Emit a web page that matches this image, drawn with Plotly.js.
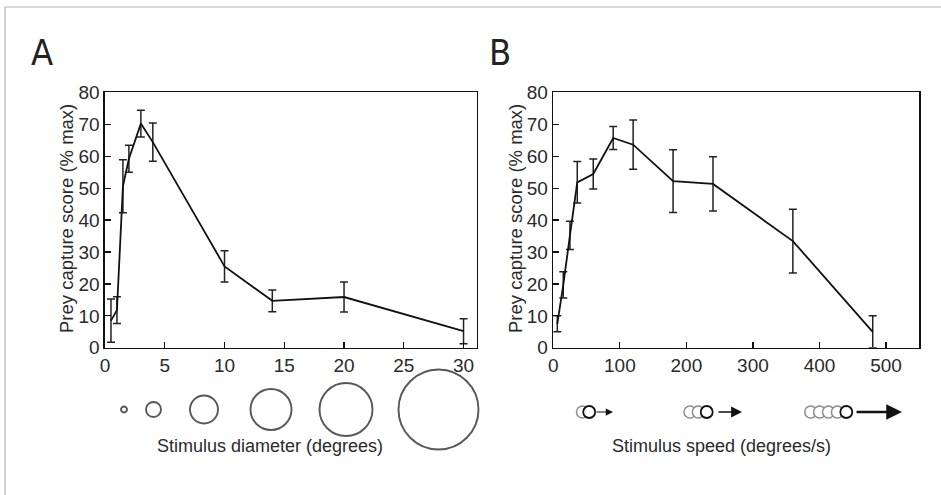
<!DOCTYPE html>
<html>
<head>
<meta charset="utf-8">
<script src="https://cdn.plot.ly/plotly-3.0.1.min.js"></script>
<style>html,body{margin:0;padding:0;background:#fff;}#chart{width:941px;height:495px;}</style>
</head>
<body>
<div id="chart"></div>
<script>
// ---- data ----
var diameter = [0.5, 1, 1.5, 2, 3, 4, 10, 14, 20, 30];
var scoreDiameter = [8.5, 11.8, 50.6, 59.2, 70.2, 64.4, 25.5, 14.7, 15.9, 5.2];
var errDiameter = [6.8, 4.2, 8.3, 4.2, 4.2, 6.0, 4.9, 3.4, 4.7, 3.9];

var speed = [6, 15, 25, 36, 60, 90, 120, 180, 240, 360, 480];
var scoreSpeed = [7.5, 19.7, 35.2, 51.8, 54.4, 65.7, 63.6, 52.2, 51.3, 33.4, 5.0];
var errSpeed = [2.5, 4.1, 4.4, 6.5, 4.7, 3.6, 7.7, 9.8, 8.5, 10.0, 5.0];

var yTicks = [0, 10, 20, 30, 40, 50, 60, 70, 80];
var xTicksA = [0, 5, 10, 15, 20, 25, 30];
var xTicksB = [0, 100, 200, 300, 400, 500];

// ---- illustration icons (pixel space of the figure) ----
var diamIconX = [124, 153.5, 204, 271, 346, 438.5];
var diamIconSize = [6, 15, 28, 41, 53, 80];
var diamIconY = 409.5;

var speedIconHead = [589.2, 706.7, 846.3];
var speedIconGhosts = [[582.5], [690.0, 698.3], [810.7, 819.6, 828.5, 837.4]];
var speedArrow = [[595, 613, 1], [717, 742, 1.6], [855, 902, 2.6]];
var speedIconY = 412;

var W = 941, H = 495;
var FONT = 'Liberation Sans, Arial, Helvetica, sans-serif';
var NARROW = 'Liberation Sans Narrow, Arial Narrow, DejaVu Sans Condensed, ' + FONT;
var TXT = '#2a2a2a';

function axX(domain, range, ticks) {
  return {domain: domain, range: range, tickvals: ticks, ticktext: ticks.map(String),
    ticks: 'inside', ticklen: 6, tickwidth: 1.2, tickcolor: '#111',
    showline: true, linecolor: '#111', linewidth: 1.6, mirror: true,
    showgrid: false, zeroline: false, fixedrange: true,
    tickfont: {family: FONT, size: 19, color: TXT}};
}
function axY(domain, anchor) {
  return {domain: domain, range: [0, 80], tickvals: yTicks, ticktext: yTicks.map(String),
    anchor: anchor,
    ticks: 'inside', ticklen: 6, tickwidth: 1.2, tickcolor: '#111',
    showline: true, linecolor: '#111', linewidth: 1.6, mirror: true,
    showgrid: false, zeroline: false, fixedrange: true,
    tickfont: {family: FONT, size: 19, color: TXT}};
}

var yDom = [(H - 347.8) / H, (H - 92.3) / H];

var traces = [
  {x: diameter, y: scoreDiameter, xaxis: 'x', yaxis: 'y', mode: 'lines', type: 'scatter',
   line: {color: '#111', width: 1.8},
   error_y: {type: 'data', array: errDiameter, visible: true, color: '#222', thickness: 1.5, width: 4}},
  {x: speed, y: scoreSpeed, xaxis: 'x2', yaxis: 'y2', mode: 'lines', type: 'scatter',
   line: {color: '#111', width: 1.8},
   error_y: {type: 'data', array: errSpeed, visible: true, color: '#222', thickness: 1.5, width: 4}},
  {x: diamIconX, y: diamIconX.map(function(){return diamIconY;}), xaxis: 'x3', yaxis: 'y3',
   mode: 'markers', type: 'scatter', cliponaxis: false, hoverinfo: 'skip',
   marker: {symbol: 'circle-open', size: diamIconSize, color: '#111', line: {width: 1.9, color: '#111'}}}
];

// speed icons: ghost circles then head circle
speedIconHead.forEach(function(hx, i) {
  var gx = speedIconGhosts[i];
  traces.push({x: gx, y: gx.map(function(){return speedIconY;}), xaxis: 'x3', yaxis: 'y3',
    mode: 'markers', type: 'scatter', cliponaxis: false, hoverinfo: 'skip',
    marker: {symbol: 'circle', size: 12, color: '#fff', line: {width: 1.5, color: '#8c8c8c'}}});
  traces.push({x: [hx], y: [speedIconY], xaxis: 'x3', yaxis: 'y3',
    mode: 'markers', type: 'scatter', cliponaxis: false, hoverinfo: 'skip',
    marker: {symbol: 'circle', size: 12, color: '#fff', line: {width: 1.8, color: '#111'}}});
});

var annotations = [
  {text: 'A', x: 42, y: 52, xref: 'x3', yref: 'y3', showarrow: false,
   font: {family: NARROW, size: 36, color: '#222'}},
  {text: 'B', x: 500, y: 52, xref: 'x3', yref: 'y3', showarrow: false,
   font: {family: NARROW, size: 36, color: '#222'}},
  {text: 'Prey capture score (% max)', x: 66, y: 219, xref: 'x3', yref: 'y3', showarrow: false,
   textangle: -90, font: {family: FONT, size: 18.5, color: TXT}},
  {text: 'Prey capture score (% max)', x: 515, y: 219, xref: 'x3', yref: 'y3', showarrow: false,
   textangle: -90, font: {family: FONT, size: 18.5, color: TXT}},
  {text: 'Stimulus diameter (degrees)', x: 270, y: 446, xref: 'x3', yref: 'y3', showarrow: false,
   font: {family: FONT, size: 18, color: TXT}},
  {text: 'Stimulus speed (degrees/s)', x: 721, y: 446, xref: 'x3', yref: 'y3', showarrow: false,
   font: {family: FONT, size: 18, color: TXT}}
];
speedArrow.forEach(function(a) {
  annotations.push({x: a[1], y: speedIconY, ax: a[0], ay: speedIconY,
    xref: 'x3', yref: 'y3', axref: 'x3', ayref: 'y3', text: '', showarrow: true,
    arrowhead: 2, arrowsize: 1.6 - a[2] * 0.15, arrowwidth: a[2], arrowcolor: '#111', standoff: 0});
});

var layout = {
  width: W, height: H, margin: {l: 0, r: 0, t: 0, b: 0},
  paper_bgcolor: '#fff', plot_bgcolor: 'rgba(0,0,0,0)', showlegend: false,
  xaxis: axX([105 / W, 476.7 / W], [0, 31.1], xTicksA),
  yaxis: axY(yDom, 'x'),
  xaxis2: axX([553.3 / W, 919.3 / W], [0, 550], xTicksB),
  yaxis2: axY(yDom, 'x2'),
  xaxis3: {domain: [0, 1], range: [0, W], visible: false, fixedrange: true, anchor: 'y3'},
  yaxis3: {domain: [0, 1], range: [H, 0], visible: false, fixedrange: true, anchor: 'x3'},
  annotations: annotations,
  shapes: [{type: 'rect', xref: 'paper', yref: 'paper', x0: 5 / W, x1: 1.1, y0: -0.1, y1: (H - 7) / H,
    line: {color: '#b5b5b5', width: 1.2}, fillcolor: 'rgba(0,0,0,0)', layer: 'below'}]
};

Plotly.newPlot('chart', traces, layout, {staticPlot: true, displayModeBar: false});
</script>
</body>
</html>
